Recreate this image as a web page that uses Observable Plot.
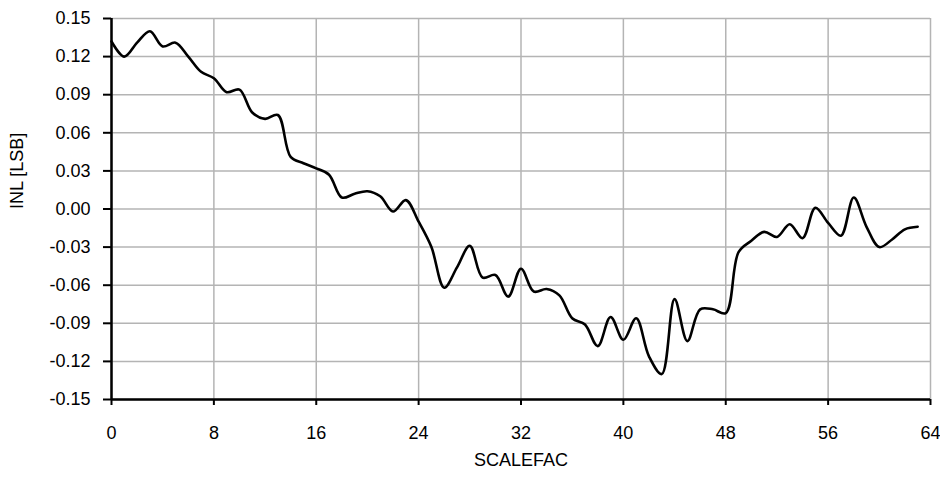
<!DOCTYPE html>
<html>
<head>
<meta charset="utf-8">
<script src="https://cdn.jsdelivr.net/npm/d3@7"></script>
<script src="https://cdn.jsdelivr.net/npm/@observablehq/plot@0.6"></script>
<style>
  html, body { margin: 0; padding: 0; background: #fff; }
  #chart svg { display: block; }
</style>
</head>
<body>
<div id="chart"></div>
<script>
const scalefac = [0,1,2,3,4,5,6,7,8,9,10,11,12,13,14,15,16,17,18,19,20,21,22,23,24,25,26,27,28,29,30,31,32,33,34,35,36,37,38,39,40,41,42,43,44,45,46,47,48,49,50,51,52,53,54,55,56,57,58,59,60,61,62,63];
const inl = [0.132,0.120,0.131,0.140,0.128,0.131,0.120,0.108,0.103,0.092,
             0.094,0.076,0.071,0.074,0.041,0.036,0.032,0.027,0.009,0.012,
             0.014,0.010,-0.002,0.007,-0.010,-0.030,-0.062,-0.046,-0.029,-0.054,
             -0.052,-0.069,-0.047,-0.065,-0.063,-0.068,-0.086,-0.091,-0.108,-0.085,
             -0.103,-0.086,-0.116,-0.130,-0.071,-0.104,-0.079,-0.079,-0.082,-0.034,
             -0.025,-0.018,-0.022,-0.012,-0.023,0.001,-0.011,-0.021,0.009,-0.014,
             -0.030,-0.024,-0.016,-0.014];
const xTicks = [0, 8, 16, 24, 32, 40, 48, 56, 64];
const yTicks = [-0.15, -0.12, -0.09, -0.06, -0.03, 0.00, 0.03, 0.06, 0.09, 0.12, 0.15];
const xTitle = "SCALEFAC";
const yTitle = "INL [LSB]";

const data = scalefac.map((x, i) => ({x, y: inl[i]}));

const chart = Plot.plot({
  width: 940,
  height: 479,
  marginLeft: 111,
  marginRight: 10,
  marginTop: 18,
  marginBottom: 80,
  style: {fontFamily: "'Liberation Sans', Arial, sans-serif", fontSize: "18px", color: "#000", background: "#fff"},
  x: {domain: [0, 64]},
  y: {domain: [-0.15, 0.15]},
  marks: [
    Plot.gridX(xTicks, {stroke: "#b4b4b4", strokeOpacity: 1, strokeWidth: 1.5}),
    Plot.gridY(yTicks, {stroke: "#b4b4b4", strokeOpacity: 1, strokeWidth: 1.5}),
    Plot.axisX(xTicks, {tickSize: 6, tickPadding: 21, strokeWidth: 2, stroke: "#000", tickFormat: d => String(d), label: null}),
    Plot.axisY(yTicks, {tickSize: 8, tickPadding: 13, strokeWidth: 2, stroke: "#000", tickFormat: d => d.toFixed(2), label: null}),
    Plot.ruleY([-0.15], {stroke: "#000", strokeWidth: 2.5}),
    Plot.ruleX([0], {stroke: "#000", strokeWidth: 2.5}),
    Plot.line(data, {x: "x", y: "y", curve: "catmull-rom", stroke: "#000", strokeWidth: 2.6}),
    Plot.text([xTitle], {frameAnchor: "bottom", dy: 66, fontSize: 18, fill: "#000"}),
    Plot.text([yTitle], {frameAnchor: "left", dx: -94, rotate: -90, fontSize: 18, fill: "#000"})
  ]
});
document.getElementById("chart").appendChild(chart);
</script>
</body>
</html>
